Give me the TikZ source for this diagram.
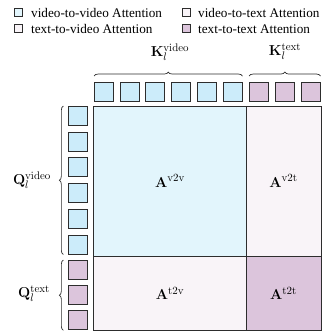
\documentclass[tikz,border=0pt]{standalone}
\usepackage[no-math]{fontspec}
\setmainfont{Liberation Serif}
\usetikzlibrary{decorations.pathreplacing}
\definecolor{vsqc}{RGB}{204,236,250}
\definecolor{vblk}{RGB}{226,245,252}
\definecolor{tsqc}{RGB}{220,197,220}
\definecolor{lblk}{RGB}{249,244,248}
\definecolor{edge}{RGB}{45,45,45}
\begin{document}
\begin{tikzpicture}[x=1pt,y=-1pt,
  sq/.style={draw=edge,line width=0.9pt,minimum size=19pt,inner sep=0pt},
  vsq/.style={sq,fill=vsqc},
  tsq/.style={sq,fill=tsqc},
  blk/.style={draw=edge,line width=0.9pt},
  legbox/.style={draw=edge,line width=0.6pt,minimum size=8pt,inner sep=0pt},
  legtxt/.style={anchor=west,inner sep=0pt,font=\fontsize{13.2}{14}\selectfont},
  brc/.style={decorate,decoration={brace,amplitude=4pt},draw=edge,line width=0.7pt},
  lbl/.style={inner sep=0pt,font=\fontsize{15.5}{16}\selectfont},
  albl/.style={inner sep=0pt,font=\fontsize{15.5}{16}\selectfont}]
\useasboundingbox (0,0) rectangle (326,331);
% legend
\node[legbox,fill=vblk] (lg1) at (18.5,12.7) {};
\node[legtxt] (lt1) at (31,12.7) {video-to-video Attention};
\node[legbox,fill=lblk] (lg2) at (186.5,12.7) {};
\node[legtxt] (lt2) at (198,12.7) {video-to-text Attention};
\node[legbox,fill=lblk] (lg3) at (18.5,28.7) {};
\node[legtxt] (lt3) at (31,28.7) {text-to-video Attention};
\node[legbox,fill=tsqc] (lg4) at (186.5,28.7) {};
\node[legtxt] (lt4) at (198,28.7) {text-to-text Attention};
% matrix blocks
\filldraw[blk,fill=vblk] (93.5,106) rectangle (246,256);
\filldraw[blk,fill=lblk] (246,106) rectangle (321,256);
\filldraw[blk,fill=lblk] (93.5,256) rectangle (246,330.5);
\filldraw[blk,fill=tsqc] (246,256) rectangle (321,330.5);
\node[albl] (avv) at (170,181) {$\mathbf{A}^{\mathrm{v2v}}$};
\node[albl] (avt) at (283.5,181) {$\mathbf{A}^{\mathrm{v2t}}$};
\node[albl] (atv) at (170,293.5) {$\mathbf{A}^{\mathrm{t2v}}$};
\node[albl] (att) at (283.5,293.5) {$\mathbf{A}^{\mathrm{t2t}}$};
% key squares
\foreach \i in {1,...,6} {\node[vsq] (kv\i) at ({104+25.7*(\i-1)},92) {};}
\foreach \i in {1,...,3} {\node[tsq] (kt\i) at ({259+25.8*(\i-1)},92) {};}
% query squares
\foreach \i in {1,...,6} {\node[vsq] (qv\i) at (78.3,{116+25.7*(\i-1)}) {};}
\foreach \i in {1,...,3} {\node[tsq] (qt\i) at (78.3,{270+25.2*(\i-1)}) {};}
% braces
\draw[brc] ([yshift=6pt]kv1.north west) -- ([yshift=6pt]kv6.north east);
\draw[brc] ([yshift=6pt]kt1.north west) -- ([yshift=6pt]kt3.north east);
\draw[brc] ([xshift=-5pt]qv6.south west) -- ([xshift=-5pt]qv1.north west);
\draw[brc] ([xshift=-5pt]qt3.south west) -- ([xshift=-5pt]qt1.north west);
% labels
\node[lbl] (kvl) at (170,52) {$\mathbf{K}_l^{\mathrm{video}}$};
\node[lbl] (ktl) at (285,52) {$\mathbf{K}_l^{\mathrm{text}}$};
\node[lbl] (qvl) at (32,180) {$\mathbf{Q}_l^{\mathrm{video}}$};
\node[lbl] (qtl) at (34,294) {$\mathbf{Q}_l^{\mathrm{text}}$};
\end{tikzpicture}
\end{document}
